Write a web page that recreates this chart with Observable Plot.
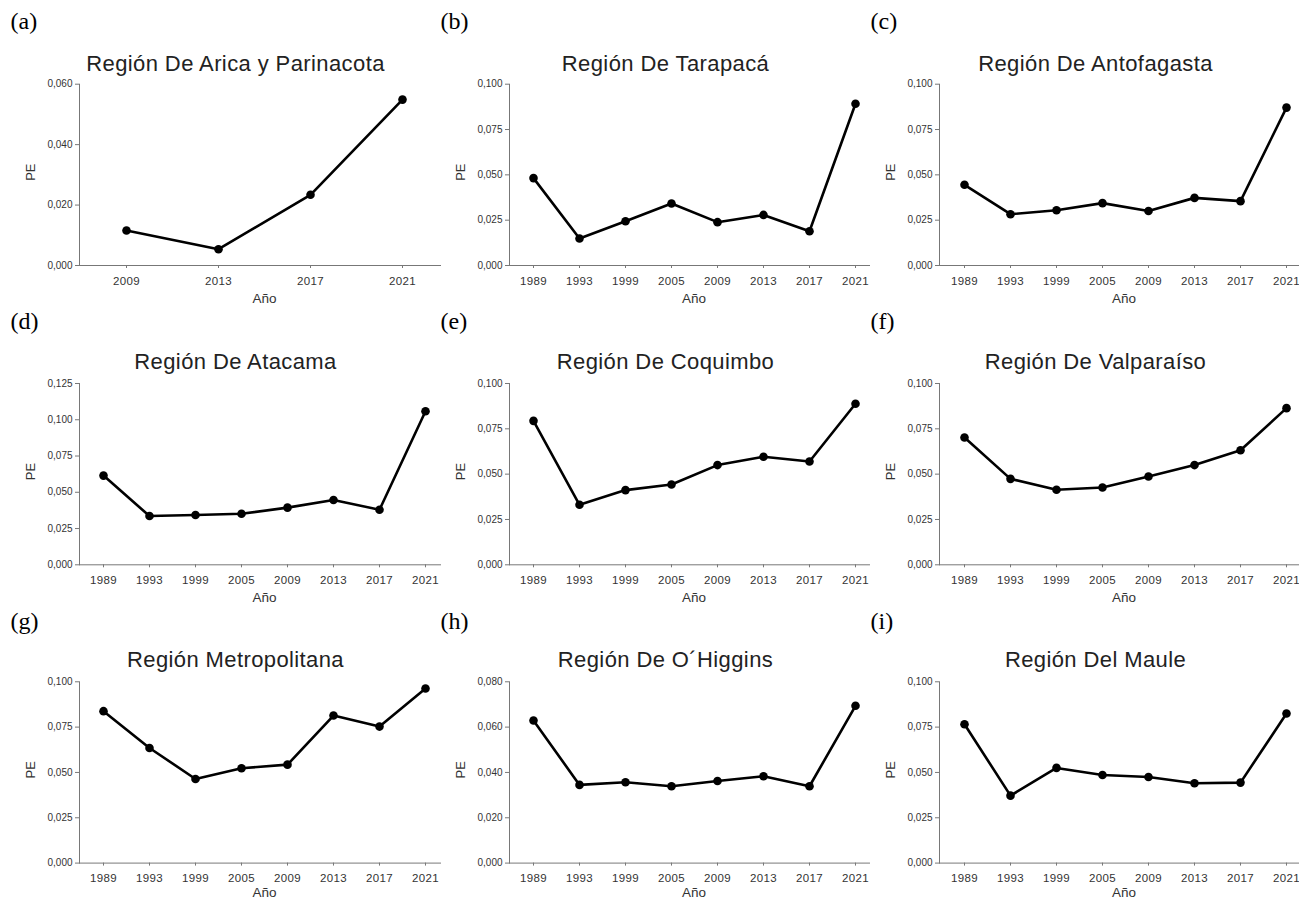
<!DOCTYPE html>
<html><head><meta charset="utf-8">
<script src="https://cdn.jsdelivr.net/npm/d3@7"></script>
<script src="https://cdn.jsdelivr.net/npm/@observablehq/plot@0.6"></script>
<style>
body{margin:0;background:#fff;}
#root{position:relative;width:1299px;height:900px;overflow:hidden;background:#fff;}
#root svg{position:absolute;overflow:visible;background:transparent;}
</style></head><body><div id="root"></div>
<script>
// ---- data ----
const yearsLong = ["1989","1993","1999","2005","2009","2013","2017","2021"];
const yearsArica = ["2009","2013","2017","2021"];

const panelLetters = ["(a)","(b)","(c)","(d)","(e)","(f)","(g)","(h)","(i)"];
const panelTitles = [
  "Región De Arica y Parinacota","Región De Tarapacá","Región De Antofagasta",
  "Región De Atacama","Región De Coquimbo","Región De Valparaíso",
  "Región Metropolitana","Región De O´Higgins","Región Del Maule"
];

const peArica      = [0.0116, 0.0054, 0.0234, 0.0549];
const peTarapaca   = [0.0482, 0.0149, 0.0244, 0.0342, 0.0239, 0.0279, 0.0189, 0.0892];
const peAntofagasta= [0.0445, 0.0283, 0.0305, 0.0344, 0.0301, 0.0373, 0.0355, 0.0871];
const peAtacama    = [0.0615, 0.0336, 0.0343, 0.0352, 0.0394, 0.0447, 0.0380, 0.1059];
const peCoquimbo   = [0.0794, 0.0331, 0.0412, 0.0443, 0.0550, 0.0596, 0.0570, 0.0888];
const peValparaiso = [0.0702, 0.0474, 0.0414, 0.0426, 0.0487, 0.0550, 0.0632, 0.0864];
const peMetropol   = [0.0838, 0.0635, 0.0464, 0.0523, 0.0543, 0.0814, 0.0753, 0.0963];
const peOHiggins   = [0.0629, 0.0345, 0.0357, 0.0339, 0.0362, 0.0383, 0.0339, 0.0694];
const peMaule      = [0.0766, 0.0372, 0.0525, 0.0486, 0.0475, 0.0440, 0.0444, 0.0825];

const ticks060 = [0, 0.02, 0.04, 0.06];
const ticks080 = [0, 0.02, 0.04, 0.06, 0.08];
const ticks100 = [0, 0.025, 0.05, 0.075, 0.1];
const ticks125 = [0, 0.025, 0.05, 0.075, 0.1, 0.125];

const yLabel = "PE";
const xLabel = "Año";

const panelYears  = [yearsArica, yearsLong, yearsLong, yearsLong, yearsLong, yearsLong, yearsLong, yearsLong, yearsLong];
const panelValues = [peArica, peTarapaca, peAntofagasta, peAtacama, peCoquimbo, peValparaiso, peMetropol, peOHiggins, peMaule];
const panelTicks  = [ticks060, ticks100, ticks100, ticks125, ticks100, ticks100, ticks100, ticks080, ticks100];

// ---- layout ----
const fmt = v => v.toFixed(3).replace(".", ",");
const frameTops = [83.7, 383, 681.3];
const labelBaselines = [29, 329, 629];
const titleBaselines = [70, 368.5, 667];
const xLabelOffsets = [37, 37, 34];
const frameH = 181.3;
const root = document.getElementById("root");

for (let k = 0; k < 9; k++) {
  const row = Math.floor(k / 3), col = k % 3;
  const years = panelYears[k], values = panelValues[k], ticks = panelTicks[k];
  const data = years.map((y, i) => ({year: y, pe: values[i]}));
  const W = col === 0 ? 440 : 439;
  const mt = frameTops[row];
  const H = mt + frameH + 42;
  const n = years.length;
  const insetL = n === 4 ? 46 : 23.3;
  const insetR = n === 4 ? 37 : [13.7, 12.7, 11][col];
  const fm = (79 + W) / 2; // frame middle
  const chart = Plot.plot({
    width: W, height: H,
    marginLeft: 79, marginRight: 0, marginTop: mt, marginBottom: H - mt - frameH,
    style: {background: "transparent", overflow: "visible", fontFamily: "'Liberation Sans', Arial, sans-serif"},
    x: {type: "point", domain: years, padding: 0, insetLeft: insetL, insetRight: insetR},
    y: {domain: [0, ticks[ticks.length - 1]]},
    marks: [
      Plot.axisY({ticks, tickSize: 4, tickPadding: 3, tickFormat: fmt, fontSize: 10, fill: "#333", stroke: "#777", label: null}),
      Plot.axisX({tickSize: 3, tickPadding: 8, fontSize: 11.5, fill: "#333", stroke: "#777", label: null}),
      Plot.frame({anchor: "left", stroke: "#777"}),
      Plot.frame({anchor: "bottom", stroke: "#777"}),
      Plot.line(data, {x: "year", y: "pe", stroke: "#000", strokeWidth: 2.6}),
      Plot.dot(data, {x: "year", y: "pe", r: 4.3, fill: "#000"}),
      Plot.text([yLabel], {frameAnchor: "left", dx: -49, dy: 6, rotate: -90, text: d => d, fontSize: 13, fill: "#333"}),
      Plot.text([xLabel], {frameAnchor: "bottom", dx: 4.5, dy: xLabelOffsets[row], lineAnchor: "bottom", text: d => d, fontSize: 13.5, fill: "#333"}),
      Plot.text([panelTitles[k]], {frameAnchor: "top", dx: 235 - fm, dy: titleBaselines[row] - mt, lineAnchor: "bottom", text: d => d, fontSize: 22, fill: "#222"}),
      Plot.text([panelLetters[k]], {frameAnchor: "top-left", dx: 10 - 79, dy: labelBaselines[row] - mt, lineAnchor: "bottom", textAnchor: "start", text: d => d, fontSize: 24, fontFamily: "'Liberation Serif', 'Times New Roman', serif", fill: "#000"})
    ]
  });
  // typographic touches
  const s = d3.select(chart);
  s.selectAll("g[aria-label='x-axis tick label']").attr("font-size", "11.5px").attr("letter-spacing", "0.4px");
  s.selectAll("g[aria-label='text']").filter(function() { return this.textContent === panelTitles[k]; }).attr("letter-spacing", "0.4px");
  chart.style.left = (col * 430) + "px";
  chart.style.top = "0px";
  root.appendChild(chart);
}
</script></body></html>
